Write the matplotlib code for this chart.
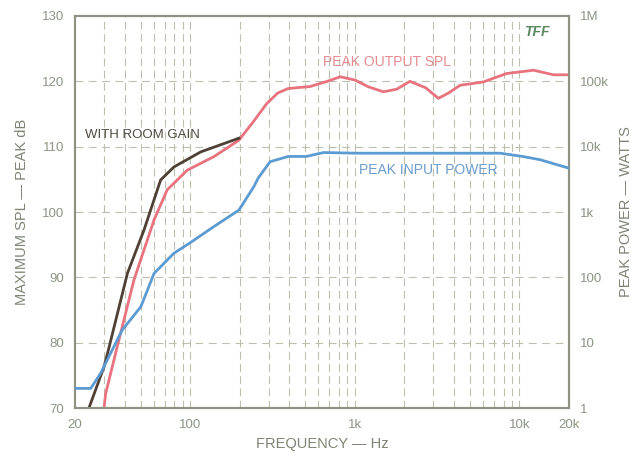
import numpy as np
from matplotlib import pyplot as plt

plt.rcParams['font.family'] = ['Liberation Sans', 'DejaVu Sans']

# peak output SPL (dB) vs frequency (Hz)
spl_freq = [30, 30.7, 36.1, 45.6, 60.4, 72.6, 96, 140, 198, 245, 292, 340, 394,
            534, 680, 816, 1002, 1200, 1488, 1800, 2158, 2700, 3216, 3700, 4360,
            6020, 8360, 12180, 16060, 20000]
spl_db = [70, 72.2, 79.4, 89.6, 98.8, 103.4, 106.4, 108.5, 111.0, 114.0, 116.6,
          118.2, 118.9, 119.2, 120.0, 120.7, 120.2, 119.2, 118.4, 118.8, 120.0,
          119.0, 117.4, 118.2, 119.4, 119.9, 121.2, 121.7, 121.0, 121.0]

# output SPL including room gain, below 200 Hz
room_freq = [24.3, 30, 32.2, 41.6, 52.4, 66.2, 79.8, 116, 198]
room_db = [70, 76.3, 79.3, 90.6, 97.2, 104.9, 106.9, 109.2, 111.3]

# peak input power, read in dB on the SPL scale (10 dB per decade of watts)
pwr_freq = [20, 24.9, 28.6, 38.6, 50.2, 60.4, 79.8, 98.8, 140, 198, 244, 259,
            306, 394, 508, 645, 1030, 7620, 10460, 13350, 20000]
pwr_db = [73.0, 73.0, 75.3, 81.9, 85.5, 90.6, 93.7, 95.2, 97.8, 100.3, 103.9,
          105.2, 107.7, 108.5, 108.5, 109.1, 109.0, 109.0, 108.5, 108.0, 106.7]
pwr_watts = 10 ** ((np.array(pwr_db) - 70) / 10)

x_ticks = [20, 100, 1000, 10000, 20000]
x_labels = ['20', '100', '1k', '10k', '20k']
w_ticks = [1, 10, 100, 1e3, 1e4, 1e5, 1e6]
w_labels = ['1', '10', '100', '1k', '10k', '100k', '1M']

axis_col = '#8e9282'
text_col = '#8a9684'
grid_col = '#bcc0ae'

fig = plt.figure(figsize=(6.33, 4.57), dpi=100)
ax = fig.add_axes([0.1185, 0.1072, 0.7805, 0.8578])
ax2 = ax.twinx()

ax.set_xscale('log')
ax.set_xlim(20, 20000)
ax.set_ylim(70, 130)
ax2.set_yscale('log')
ax2.set_ylim(1, 1e6)

# dashed grid at every decade step and every 10 dB
minor = [m * 10 ** d for d in range(1, 5) for m in range(1, 10) if 20 < m * 10 ** d < 20000]
for f in minor:
    ax.axvline(f, color=grid_col, lw=0.8, ls=(0, (7, 4)), zorder=0)
for y in [80, 90, 100, 110, 120]:
    ax.axhline(y, color=grid_col, lw=0.8, ls=(0, (7, 5)), zorder=0)

ax.plot(spl_freq, spl_db, color='#e8737e', lw=2.0, zorder=3)
ax.plot(room_freq, room_db, color='#4e4034', lw=2.0, zorder=4)
ax2.plot(pwr_freq, pwr_watts, color='#5c9bd2', lw=2.0, zorder=3)

ax.set_xticks(x_ticks)
ax.set_xticklabels(x_labels)
ax.xaxis.set_minor_locator(plt.NullLocator())
ax.set_yticks([70, 80, 90, 100, 110, 120, 130])
ax2.set_yticks(w_ticks)
ax2.set_yticklabels(w_labels)
ax2.yaxis.set_minor_locator(plt.NullLocator())

for a in (ax, ax2):
    a.tick_params(length=0, colors=text_col, labelsize=9.5, pad=8)
    for s in a.spines.values():
        s.set_color(axis_col)
        s.set_linewidth(1.5)

ax.set_xlabel('FREQUENCY — Hz', color='#7e8474', fontsize=10.5, labelpad=4)
ax.set_ylabel('MAXIMUM SPL — PEAK dB', color='#7e8474', fontsize=10.5, labelpad=9)
ax2.set_ylabel('PEAK POWER — WATTS', color='#7e8474', fontsize=10.5, labelpad=7)

ax.text(23, 111.8, 'WITH ROOM GAIN', color='#4e4a40', fontsize=9.5, va='center')
ax.text(1567, 123.0, 'PEAK OUTPUT SPL', color='#e58a90', fontsize=10, ha='center', va='center')
ax.text(2780, 106.4, 'PEAK INPUT POWER', color='#6a9ccc', fontsize=10, ha='center', va='center')
ax.text(12800, 127.5, 'TFF', color='#5a8a60', fontsize=10, style='italic',
        weight='bold', ha='center', va='center')

fig.savefig('out.png', dpi=100)
